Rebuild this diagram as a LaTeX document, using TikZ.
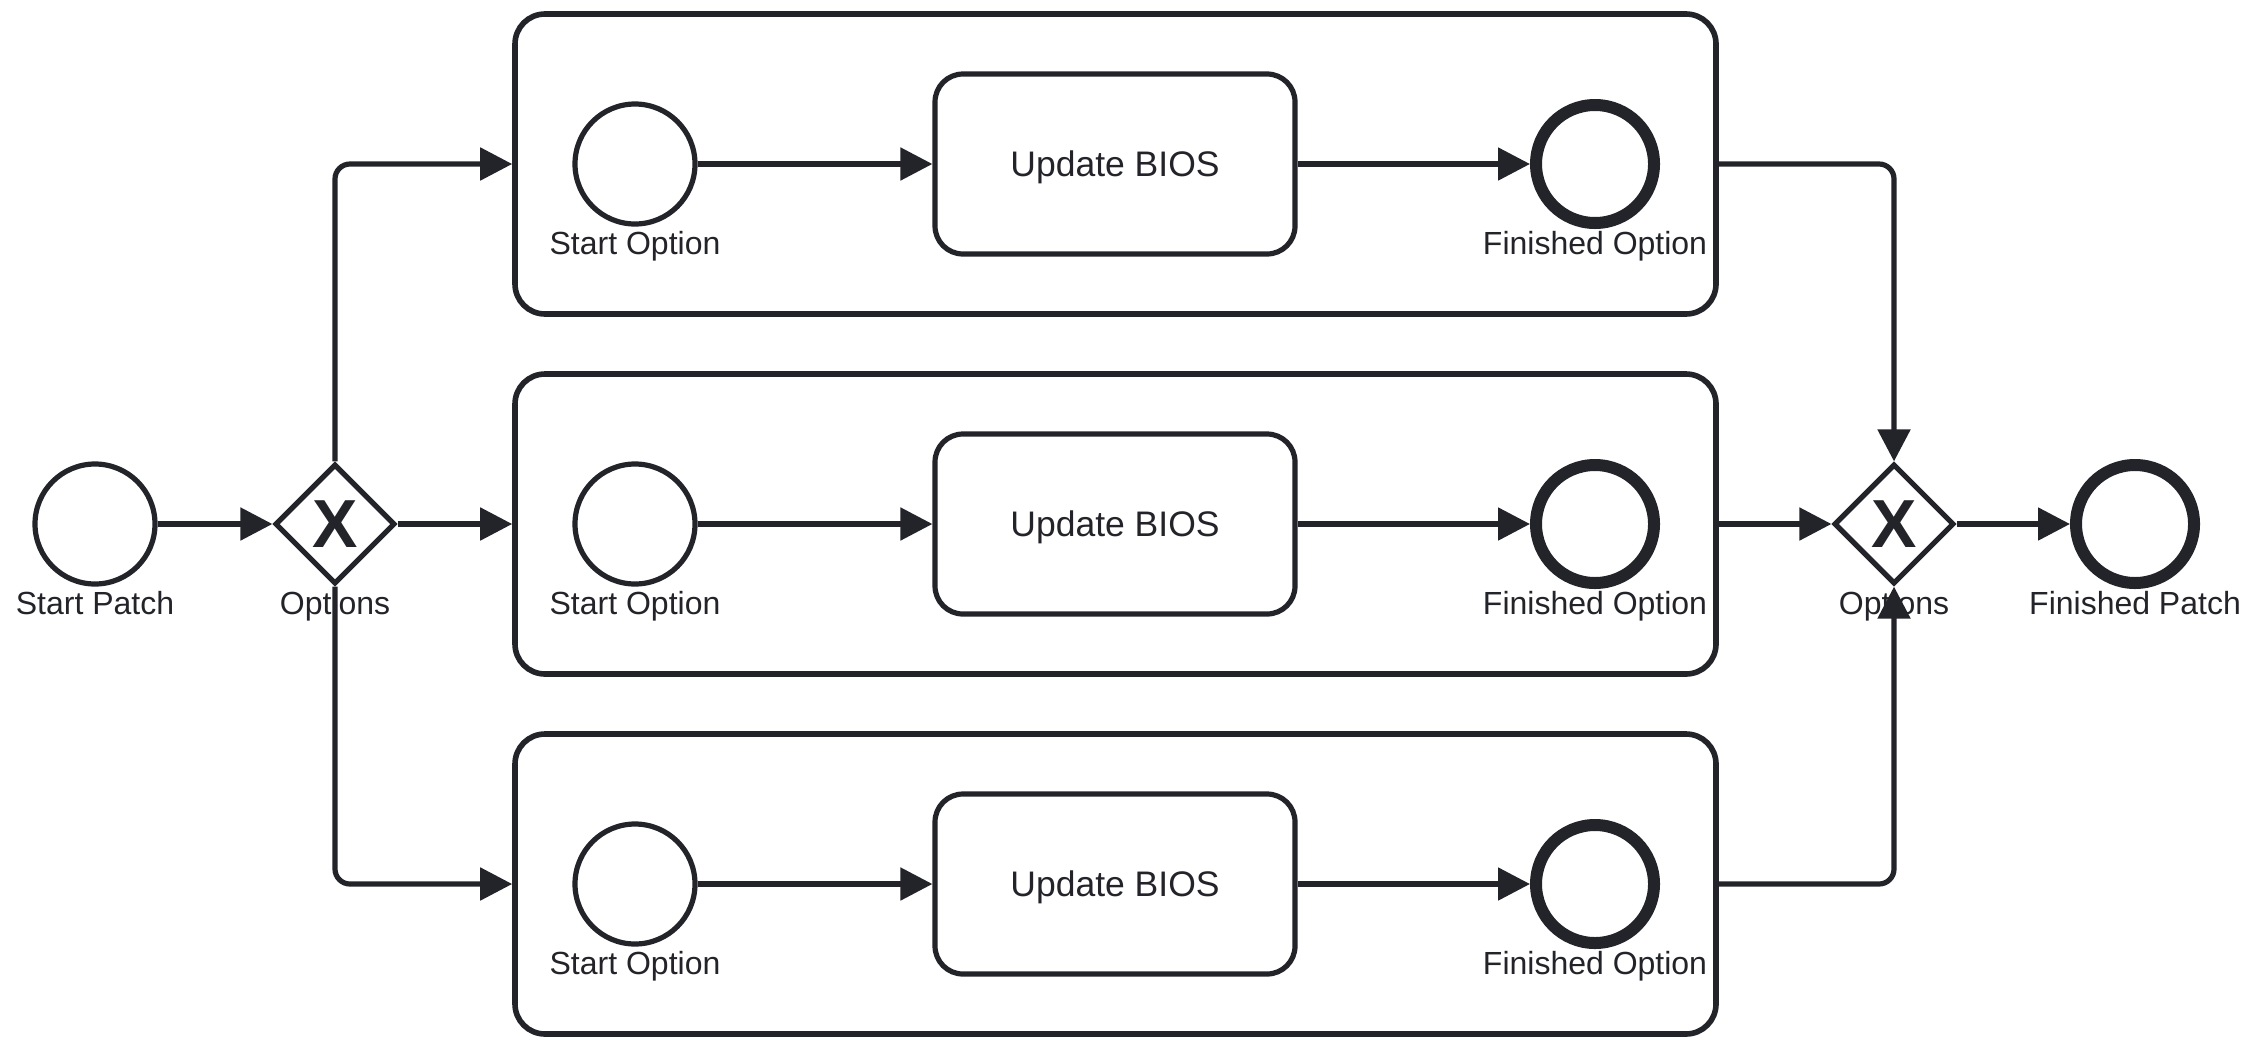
\documentclass[tikz,border=0pt]{standalone}
\usepackage{fontspec}
\setmainfont{Liberation Sans}
\usetikzlibrary{shapes.geometric,arrows.meta}
\definecolor{ink}{RGB}{34,36,41}
\tikzset{
  ln/.style={draw=ink, line width=2.6pt},
  flow/.style={ln, -{Triangle[length=16pt,width=16pt]}},
  evt/.style={circle, ln, fill=white, minimum size=60pt, inner sep=0pt},
  endevt/.style={circle, draw=ink, line width=6pt, fill=white, minimum size=59pt, inner sep=0pt},
  gw/.style={diamond, ln, fill=white, minimum size=60pt, inner sep=0pt, aspect=1},
  xmark/.style={text=ink, font=\fontsize{34}{34}\selectfont\bfseries, inner sep=0pt},
  task/.style={rectangle, ln, rounded corners=14pt, minimum width=180pt, minimum height=90pt, inner sep=0pt, font=\fontsize{17.75}{20}\selectfont, text=ink, text depth=0pt},
  pool/.style={rectangle, draw=ink, line width=2.8pt, rounded corners=15pt, minimum width=600.5pt, minimum height=150pt, inner sep=0pt},
  lbl/.style={anchor=base, inner sep=0pt, font=\fontsize{16}{19}\selectfont, text=ink},
}
\begin{document}
\begin{tikzpicture}[x=0.5pt, y=-0.5pt]
\useasboundingbox[fill=white] (0,0) rectangle (2262,1050);

% pools
\foreach \i/\r in {1/164, 2/524, 3/884}{
  \node[pool] (p\i) at (1115.5,\r) {};
  \node[evt] (so\i) at (635,\r) {};
  \node[lbl] (sol\i) at (635,\r+90) {Start Option};
  \node[task] (t\i) at (1115,\r) {Update BIOS};
  \node[endevt] (fo\i) at (1595,\r) {};
  \node[lbl] (fol\i) at (1595,\r+90) {Finished Option};
  \draw[flow] (so\i) -- (t\i);
  \draw[flow] (t\i) -- (fo\i);
}

% start and end
\node[evt] (sp) at (95,524) {};
\node[lbl] (spl) at (95,614) {Start Patch};
\node[gw] (g1) at (335,524) {};
\node[xmark] (g1x) at (g1) {X};
\node[lbl] (g1l) at (335,614) {Options};
\node[gw] (g2) at (1894,524) {};
\node[xmark] (g2x) at (g2) {X};
\node[lbl] (g2l) at (1894,614) {Options};
\node[endevt] (fp) at (2135,524) {};
\node[lbl] (fpl) at (2135,614) {Finished Patch};

% connectors
\draw[flow] (sp) -- (g1);
\draw[flow] (g1.east) -- (p2.west);
\draw[flow, rounded corners=7.5pt] (g1.north) |- (p1.west);
\draw[flow, rounded corners=7.5pt] (g1.south) |- (p3.west);
\draw[flow] (p2.east) -- (g2.west);
\draw[flow, rounded corners=7.5pt] (p1.east) -| (g2.north);
\draw[flow, rounded corners=7.5pt] (p3.east) -| (g2.south);
\draw[flow] (g2.east) -- (fp);
\end{tikzpicture}
\end{document}
